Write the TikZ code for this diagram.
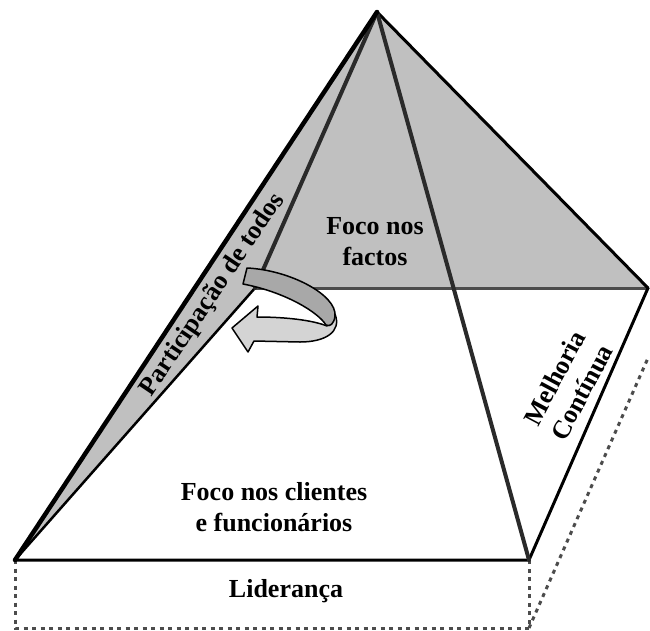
\documentclass[tikz,border=0pt]{standalone}
\usepackage{fontspec}
\setmainfont{Liberation Serif}
\usetikzlibrary{positioning}
\definecolor{facegray}{HTML}{C0C0C0}
\definecolor{banddark}{HTML}{A8A8A8}
\definecolor{bandlight}{HTML}{D4D4D4}
\definecolor{ridgegray}{HTML}{2A2A2A}
\tikzset{
  face/.style={fill=facegray,draw=none},
  ridge/.style={draw=ridgegray,line width=4pt,line cap=round,line join=round},
  edge/.style={draw=black,line width=3pt,line cap=round,line join=round},
  hidden/.style={draw=black!70,line width=3pt,dash pattern=on 4pt off 4.5pt},
  band/.style={draw=black,line width=1.5pt,line join=round},
  lbl/.style={font=\bfseries\fontsize{26}{31}\selectfont,align=center,inner sep=0pt}
}
\begin{document}
\begin{tikzpicture}[x=1pt,y=-1pt]
  \useasboundingbox (0,0) rectangle (650,630);
  \coordinate (apex) at (377,12);
  \coordinate (fl) at (15,560);
  \coordinate (fr) at (529,560);
  \coordinate (br) at (648,288);
  \coordinate (bl) at (255,288);
  \coordinate (fld) at (15,628);
  \coordinate (frd) at (529,628);
  \coordinate (brd) at (648,358);

  \fill[face] (apex) -- (bl) -- (br) -- cycle;
  \fill[face] (apex) -- (fl) -- (bl) -- cycle;

  \draw[hidden] (fl) -- (fld) -- (frd) -- (fr);
  \draw[hidden] (frd) -- (brd);

  \draw[edge,draw=black!70] (bl) -- (br);
  \draw[edge,line width=2.5pt] (bl) -- (fl);
  \draw[edge] (fl) -- (fr) -- (br);
  \draw[edge] (apex) -- (br);
  \draw[ridge] (apex) -- (bl);
  \draw[ridge] (apex) -- (fr);
  \draw[edge,line width=4.5pt] (apex) -- (fl);

  \filldraw[band,fill=bandlight] (335,314) .. controls (342,332) and (325,342) .. (300,342)
    -- (254,341) -- (248,352) -- (232,328) -- (258,306) -- (257,317)
    .. controls (285,317) and (312,320) .. (327,326) -- cycle;
  \filldraw[band,fill=banddark] (247,268) .. controls (290,270) and (337,295) .. (335,316)
    .. controls (334,324) and (330,327) .. (326,325)
    .. controls (318,312) and (285,292) .. (243,284) -- cycle;

  \node[lbl,rotate=56] (todos) at (213,295) {Participação de todos};
  \node[lbl] (factos) at (375,242) {Foco nos\\factos};
  \node[lbl] (clientes) at (274,507) {Foco nos clientes\\e funcionários};
  \node[lbl] (lideranca) at (286,591) {Liderança};
  \node[lbl,rotate=62] (melhoria) at (568,385) {Melhoria\\Contínua};
\end{tikzpicture}
\end{document}
